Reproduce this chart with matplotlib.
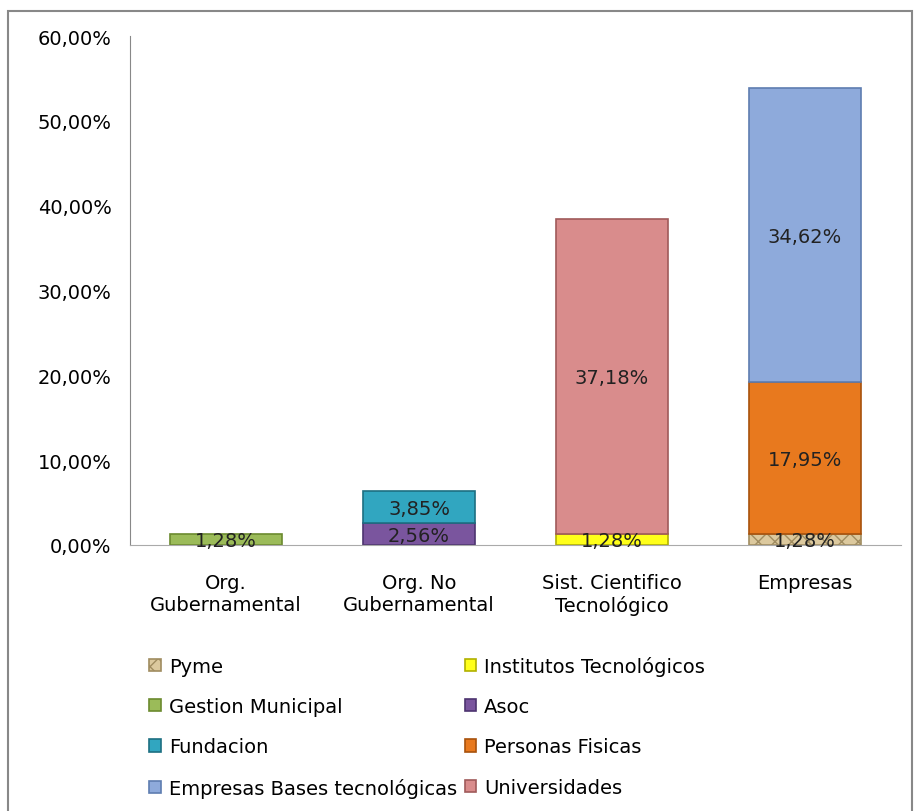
import matplotlib.pyplot as plt
import matplotlib.patches as mpatches
import numpy as np

categories = ['Org.\nGubernamental', 'Org. No\nGubernamental',
              'Sist. Cientifico\nTecnológico', 'Empresas']

# series values per category (percent)
series = ['Pyme', 'Institutos Tecnológicos', 'Gestion Municipal', 'Asoc',
          'Fundacion', 'Personas Fisicas', 'Empresas Bases tecnológicas', 'Universidades']
pyme = [0, 0, 0, 1.28]
institutos = [0, 0, 1.28, 0]
gestion = [1.28, 0, 0, 0]
asoc = [0, 2.56, 0, 0]
fundacion = [0, 3.85, 0, 0]
personas = [0, 0, 0, 17.95]
empresas_bt = [0, 0, 0, 34.62]
universidades = [0, 0, 37.18, 0]

values = [pyme, institutos, gestion, asoc, fundacion, personas, empresas_bt, universidades]
colors = ['#dcc99e', '#ffff1a', '#9bbb59', '#7a559e', '#31a6c0', '#e8791e', '#8eaadb', '#d98c8c']
edges = ['#a08c60', '#b0b000', '#6b8a2e', '#4d3470', '#1d6f82', '#a8520c', '#5e7db0', '#a05a5a']
hatches = ['xx', None, None, None, None, None, None, None]

plt.rcParams['hatch.color'] = '#a08c60'
fs = 14

fig = plt.figure(figsize=(9.14, 8.12), dpi=100)
ax = fig.add_axes([0.1417, 0.3276, 0.8446, 0.6268])

x = np.arange(len(categories))
bottom = np.zeros(len(categories))
for name, vals, c, ec, h in zip(series, values, colors, edges, hatches):
    vals = np.array(vals)
    m = vals > 0
    ax.bar(x[m], vals[m], 0.58, bottom=bottom[m], color=c, edgecolor=ec,
           linewidth=1.2, hatch=h, label=name)
    for xi, v, b in zip(x[m], vals[m], bottom[m]):
        ax.text(xi, b + v / 2 - 0.15, f'{v:.2f}%'.replace('.', ','),
                ha='center', va='center', fontsize=fs, color='#222222')
    bottom += vals

ax.set_xlim(-0.5, 3.5)
ax.set_ylim(0, 60)
ax.set_yticks(np.arange(0, 61, 10))
ax.set_yticklabels([f'{t:.2f}%'.replace('.', ',') for t in np.arange(0, 61, 10)], fontsize=fs)
ax.set_xticks(x)
ax.set_xticklabels(categories, fontsize=fs)
ax.tick_params(axis='x', length=0, pad=20)
ax.tick_params(axis='y', length=0, pad=13)
for s in ['top', 'right']:
    ax.spines[s].set_visible(False)
ax.spines['left'].set_color('#888888')
ax.spines['bottom'].set_color('#aaaaaa')

handles, labels = ax.get_legend_handles_labels()
order = [0, 2, 4, 6, 1, 3, 5, 7]
leg = fig.legend([handles[i] for i in order], [labels[i] for i in order],
                 loc='upper left', bbox_to_anchor=(0.155, 0.201), ncol=2,
                 frameon=False, fontsize=fs, handlelength=0.6, handleheight=0.6,
                 handletextpad=0.4, labelspacing=1.1, columnspacing=0.4,
                 borderaxespad=0)

# outer chart border
fig.patches.append(mpatches.Rectangle((0.009, -0.01), 0.989, 0.995, transform=fig.transFigure,
                                      fill=False, edgecolor='#888888', linewidth=1.5))

plt.savefig('out.png', dpi=100)
